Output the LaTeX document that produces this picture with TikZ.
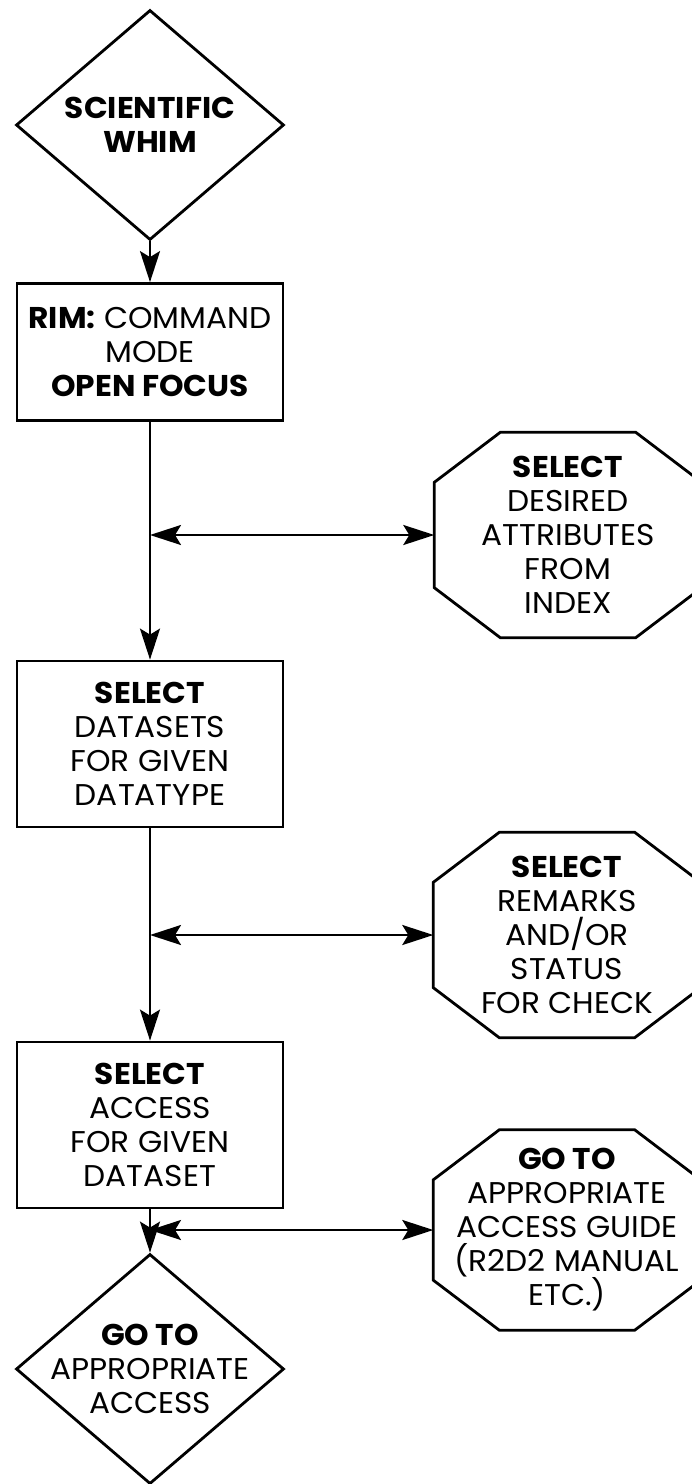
\documentclass[tikz,border=0pt]{standalone}
\usepackage{fontspec}
\setmainfont{Poppins}[FakeStretch=1.04]
\usetikzlibrary{shapes.geometric, arrows.meta}

% octagon drawn round a plain box node
\newcommand\chamferbox[1]{%
	\draw[outline]
		([xshift=66pt]#1.north west) -- ([xshift=-66pt]#1.north east)
		-- ([yshift=-50pt]#1.north east) -- ([yshift=50pt]#1.south east)
		-- ([xshift=-66pt]#1.south east) -- ([xshift=66pt]#1.south west)
		-- ([yshift=50pt]#1.south west) -- ([yshift=-50pt]#1.north west)
		-- cycle;}

\begin{document}
\begin{tikzpicture}
	  [
	    x                       = 1pt,
	    y                       = -1pt,
	    every node/.style       = {font=\fontsize{30}{34}\selectfont, align=center},
	    outline/.style          = {draw, line width=2.8pt, line join=miter},
		whim/.style				= {
			diamond, outline, inner sep=0pt,
			minimum width=268pt, minimum height=230pt
		},
		stepbox/.style			= {
			rectangle, outline, inner sep=0pt,
			minimum width=266pt
		},
		sidebox/.style			= {
			rectangle, inner sep=0pt,
			minimum width=267pt, minimum height=205pt
		},
		flow/.style				= {
			draw, line width=2.4pt,
			-{Stealth[length=31pt, width=20pt, inset=6pt]}
		},
		both/.style				= {
			draw, line width=2.4pt,
			{Stealth[length=31pt, width=20pt, inset=6pt]}-{Stealth[length=31pt, width=20pt, inset=6pt]}
		}
		]
		\useasboundingbox (0,0) rectangle (692,1484);
		% main column
		\node [whim, label={center:{\textbf{SCIENTIFIC}\\\textbf{WHIM}}}] (whim) at (150,125) {};
		\node [stepbox, minimum height=137pt] (rim) at (150,352)
			{\textbf{RIM:} COMMAND\\MODE\\\textbf{OPEN FOCUS}};
		\node [stepbox, minimum height=166pt] (datasets) at (150,744)
			{\textbf{SELECT}\\DATASETS\\FOR GIVEN\\DATATYPE};
		\node [stepbox, minimum height=166pt] (access) at (150,1125)
			{\textbf{SELECT}\\ACCESS\\FOR GIVEN\\DATASET};
		\node [whim, label={center:{\textbf{GO TO}\\APPROPRIATE\\ACCESS}}] (goto) at (150,1369) {};
		% side steps
		\node [sidebox] (attrs) at (568,535)
			{\textbf{SELECT}\\DESIRED\\ATTRIBUTES\\FROM\\INDEX};
		\node [sidebox] (remarks) at (567,935)
			{\textbf{SELECT}\\REMARKS\\AND/OR\\STATUS\\FOR CHECK};
		\node [sidebox, minimum height=200pt] (guide) at (567,1230)
			{\textbf{GO TO}\\APPROPRIATE\\ACCESS GUIDE\\(R2D2 MANUAL\\ETC.)};
		\chamferbox{attrs}
		\chamferbox{remarks}
		\chamferbox{guide}
		% connectors
		\draw [flow] (whim.south) -- (rim.north);
		\draw [flow] (rim.south) -- (datasets.north);
		\draw [flow] (datasets.south) -- (access.north);
		\draw [flow] (access.south) -- (goto.north);
		\draw [both] (rim.south |- attrs.west) -- (attrs.west);
		\draw [both] (datasets.south |- remarks.west) -- (remarks.west);
		\draw [both] (access.south |- guide.west) -- (guide.west);
	\end{tikzpicture}
\end{document}
